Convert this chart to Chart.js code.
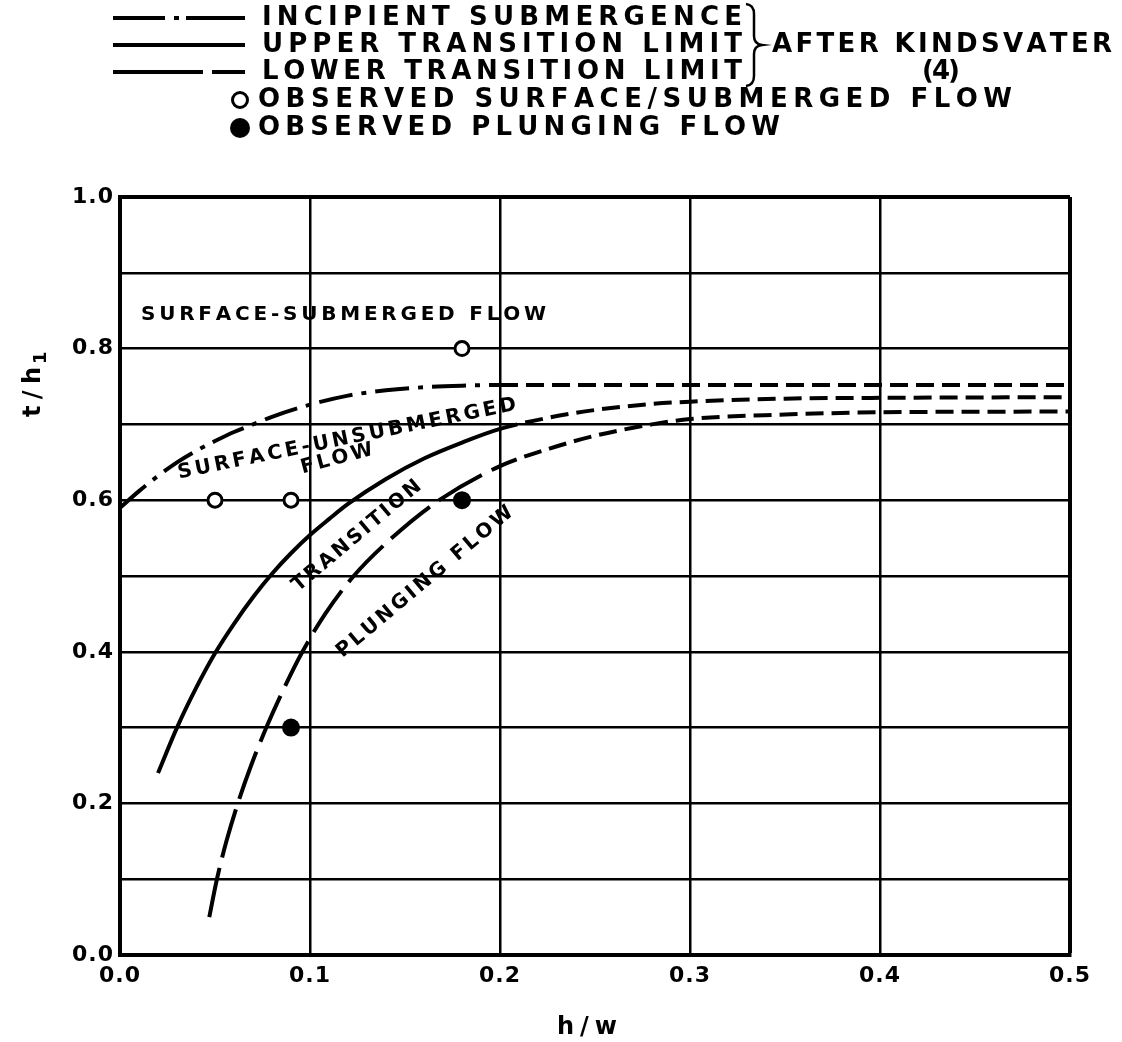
<!DOCTYPE html>
<html>
<head>
<meta charset="utf-8">
<script src="https://cdn.jsdelivr.net/npm/chart.js@4.4.1/dist/chart.umd.min.js"></script>
<style>
html,body{margin:0;padding:0;background:#fff;}
#wrap{position:relative;width:1122px;height:1042px;}
</style>
</head>
<body>
<div id="wrap"><canvas id="c" width="1122" height="1042"></canvas></div>
<script>
// ---- data ----
const xTicks = [0.0, 0.1, 0.2, 0.3, 0.4, 0.5];
const yTickLabels = ['0.0', '0.2', '0.4', '0.6', '0.8', '1.0'];

const incipientX = [0, 0.01, 0.02, 0.03, 0.04, 0.05, 0.06, 0.07, 0.08, 0.1, 0.12, 0.14, 0.16, 0.18, 0.2, 0.25, 0.3, 0.4, 0.5];
const incipientY = [0.59, 0.612, 0.632, 0.65, 0.665, 0.678, 0.69, 0.70, 0.71, 0.726, 0.738, 0.745, 0.749, 0.751, 0.752, 0.752, 0.752, 0.752, 0.752];

const upperX = [0.02, 0.03, 0.04, 0.05, 0.06, 0.07, 0.08, 0.09, 0.1, 0.11, 0.12, 0.14, 0.16, 0.18, 0.2, 0.226, 0.25, 0.28, 0.3, 0.35, 0.4, 0.5];
const upperY = [0.24, 0.30, 0.352, 0.398, 0.437, 0.472, 0.503, 0.530, 0.554, 0.575, 0.595, 0.628, 0.655, 0.676, 0.694, 0.709, 0.719, 0.727, 0.730, 0.734, 0.735, 0.736];

const lowerX = [0.047, 0.051, 0.056, 0.062, 0.069, 0.077, 0.086, 0.096, 0.108, 0.123, 0.143, 0.168, 0.2, 0.226, 0.25, 0.28, 0.3, 0.35, 0.4, 0.5];
const lowerY = [0.05, 0.1, 0.15, 0.2, 0.25, 0.3, 0.35, 0.4, 0.45, 0.5, 0.55, 0.6, 0.645, 0.668, 0.685, 0.700, 0.707, 0.713, 0.716, 0.717];

const openX = [0.05, 0.09, 0.18];
const openY = [0.6, 0.6, 0.8];
const filledX = [0.18, 0.09];
const filledY = [0.6, 0.3];

const extrapolateFrom = 0.2;

const legendLabels = ['INCIPIENT SUBMERGENCE', 'UPPER TRANSITION LIMIT', 'LOWER TRANSITION LIMIT',
  'OBSERVED SURFACE/SUBMERGED FLOW', 'OBSERVED PLUNGING FLOW'];
const sourceLabel = ['AFTER KINDSVATER', '(4)'];
const regionLabels = ['SURFACE-SUBMERGED FLOW', 'SURFACE-UNSUBMERGED', 'FLOW', 'TRANSITION', 'PLUNGING FLOW'];

// ---- helpers ----
const zip = (xs, ys) => xs.map((x, i) => ({x, y: ys[i]}));
const FONT = '"DejaVu Sans", "Liberation Sans", Arial, sans-serif';

function drawSpaced(ctx, text, x, y, width, size, align, angle) {
  ctx.save();
  ctx.letterSpacing = '0px';
  ctx.font = 'bold ' + size + 'px ' + FONT;
  ctx.fillStyle = '#000';
  ctx.textBaseline = 'middle';
  ctx.textAlign = 'left';
  const chars = [...text];
  const ws = chars.map(c => ctx.measureText(c).width);
  const nat = ws.reduce((a, b) => a + b, 0);
  const sp = chars.length > 1 ? (width - nat) / (chars.length - 1) : 0;
  ctx.translate(x, y);
  ctx.rotate((angle || 0) * Math.PI / 180);
  let cx = align === 'center' ? -width / 2 : (align === 'right' ? -width : 0);
  chars.forEach((c, i) => { ctx.fillText(c, cx, 0); cx += ws[i] + sp; });
  ctx.restore();
}

function seg(ctx, x1, y1, x2, y2) {
  ctx.beginPath(); ctx.moveTo(x1, y1); ctx.lineTo(x2, y2); ctx.stroke();
}

const extraDash = c => (c.p0.parsed.x >= extrapolateFrom - 1e-9 ? [18, 8] : undefined);

const decorPlugin = {
  id: 'decor',
  beforeDraw(chart) {
    chart.ctx.letterSpacing = '1px';
  },
  afterDraw(chart) {
    const ctx = chart.ctx;
    ctx.save();
    ctx.letterSpacing = '0px';
    ctx.strokeStyle = '#000';
    ctx.fillStyle = '#000';
    ctx.lineCap = 'butt';

    // ---- legend samples ----
    ctx.lineWidth = 4;
    const rows = [18, 45, 72, 100, 128];
    seg(ctx, 113, rows[0], 165, rows[0]);
    seg(ctx, 174, rows[0], 179, rows[0]);
    seg(ctx, 186, rows[0], 245, rows[0]);
    seg(ctx, 113, rows[1], 245, rows[1]);
    seg(ctx, 113, rows[2], 203, rows[2]);
    seg(ctx, 212, rows[2], 245, rows[2]);
    ctx.lineWidth = 3;
    ctx.beginPath(); ctx.arc(240, rows[3], 7.5, 0, Math.PI * 2); ctx.stroke();
    ctx.beginPath(); ctx.arc(240, rows[4], 10, 0, Math.PI * 2); ctx.fill();

    drawSpaced(ctx, legendLabels[0], 262, rows[0], 480, 26, 'left');
    drawSpaced(ctx, legendLabels[1], 262, rows[1], 480, 26, 'left');
    drawSpaced(ctx, legendLabels[2], 262, rows[2], 480, 26, 'left');
    drawSpaced(ctx, legendLabels[3], 258, rows[3], 754, 26, 'left');
    drawSpaced(ctx, legendLabels[4], 258, rows[4], 522, 26, 'left');

    // brace
    ctx.lineWidth = 2.5;
    ctx.beginPath();
    ctx.moveTo(746, 4);
    ctx.quadraticCurveTo(754, 5, 754, 14);
    ctx.lineTo(754, 36);
    ctx.quadraticCurveTo(754, 44, 762, 45);
    ctx.quadraticCurveTo(754, 46, 754, 54);
    ctx.lineTo(754, 76);
    ctx.quadraticCurveTo(754, 85, 746, 86);
    ctx.stroke();
    drawSpaced(ctx, sourceLabel[0], 772, 45, 340, 26, 'left');
    drawSpaced(ctx, sourceLabel[1], 941, 72, 38, 26, 'center');

    // ---- region labels in the plot ----
    drawSpaced(ctx, regionLabels[0], 141, 315, 405, 20, 'left');
    drawSpaced(ctx, regionLabels[1], 347, 439, 345, 20, 'center', -11.5);
    drawSpaced(ctx, regionLabels[2], 337, 459, 74, 20, 'center', -15);
    drawSpaced(ctx, regionLabels[3], 357, 536, 162, 20, 'center', -40);
    drawSpaced(ctx, regionLabels[4], 425, 582, 224, 20, 'center', -40);

    // ---- axis titles ----
    drawSpaced(ctx, 'h/w', 587, 1028, 60, 24, 'center');
    ctx.save();
    ctx.translate(34, 385);
    ctx.rotate(-Math.PI / 2);
    drawSpaced(ctx, 't/h', -32, 0, 50, 24, 'left');
    drawSpaced(ctx, '1', 21, 7, 10, 18, 'left');
    ctx.restore();

    ctx.restore();
  }
};

const edgeWidth = (c, edge) => (Math.abs(c.tick.value - edge) < 1e-9 ? 4 : 2.5);

new Chart(document.getElementById('c'), {
  type: 'scatter',
  data: {
    datasets: [
      {
        label: 'Incipient submergence',
        data: zip(incipientX, incipientY),
        showLine: true, borderColor: '#000', borderWidth: 4, pointRadius: 0,
        borderDash: [34, 9, 5, 9], cubicInterpolationMode: 'monotone', tension: 0.4,
        segment: { borderDash: extraDash }
      },
      {
        label: 'Upper transition limit',
        data: zip(upperX, upperY),
        showLine: true, borderColor: '#000', borderWidth: 4, pointRadius: 0,
        borderDash: [], cubicInterpolationMode: 'monotone', tension: 0.4,
        segment: { borderDash: extraDash }
      },
      {
        label: 'Lower transition limit',
        data: zip(lowerX, lowerY),
        showLine: true, borderColor: '#000', borderWidth: 4, pointRadius: 0,
        borderDash: [50, 11], cubicInterpolationMode: 'monotone', tension: 0.4,
        segment: { borderDash: extraDash }
      },
      {
        label: 'Observed surface/submerged flow',
        data: zip(openX, openY),
        showLine: false, pointRadius: 7, pointBorderWidth: 3,
        pointBackgroundColor: '#fff', pointBorderColor: '#000'
      },
      {
        label: 'Observed plunging flow',
        data: zip(filledX, filledY),
        showLine: false, pointRadius: 9, pointBorderWidth: 0,
        pointBackgroundColor: '#000', pointBorderColor: '#000'
      }
    ]
  },
  options: {
    responsive: false,
    animation: false,
    devicePixelRatio: 1,
    layout: { padding: { top: 197, right: 52, left: 0, bottom: 0 } },
    plugins: { legend: { display: false }, tooltip: { enabled: false } },
    scales: {
      x: {
        type: 'linear', min: 0, max: 0.5,
        afterFit: s => { s.height = 87; },
        afterBuildTicks: s => { s.ticks = xTicks.map(v => ({value: v})); },
        border: { display: true, color: '#000', width: 4 },
        grid: { color: '#000', lineWidth: c => edgeWidth(c, 0.5), drawTicks: false },
        ticks: {
          color: '#000', padding: 8,
          font: { family: FONT, size: 22, weight: 'bold' },
          callback: v => v.toFixed(1)
        }
      },
      y: {
        type: 'linear', min: 0, max: 1,
        afterFit: s => { s.width = 120; },
        border: { display: true, color: '#000', width: 4 },
        grid: { color: '#000', lineWidth: c => edgeWidth(c, 1), drawTicks: false },
        ticks: {
          color: '#000', padding: 6, stepSize: 0.1,
          font: { family: FONT, size: 22, weight: 'bold' },
          callback: v => {
            const s = v.toFixed(1);
            return yTickLabels.includes(s) ? s : '';
          }
        }
      }
    }
  },
  plugins: [decorPlugin]
});
</script>
</body>
</html>
